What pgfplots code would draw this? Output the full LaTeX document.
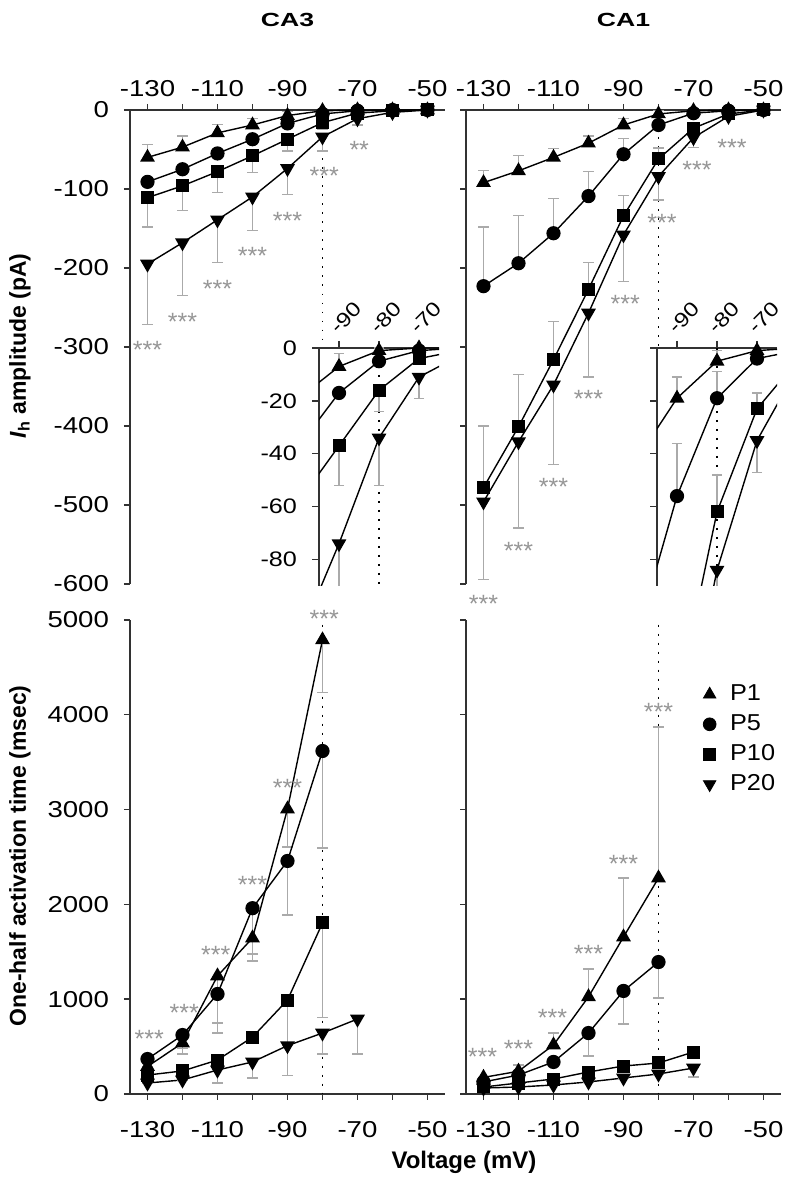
\documentclass[border=0pt]{standalone}
\usepackage{pgfplots}
\pgfplotsset{compat=1.18}
\usepackage{pgfplotstable}
\usepackage{fontspec}
\setmainfont{Liberation Sans}
\newfontfamily\tickfont{Liberation Sans}[FakeStretch=1.2]
\newfontfamily\legfont{Liberation Sans}[FakeStretch=1.1]
\newfontfamily\titlefont{Liberation Sans}[FakeStretch=1.4]

\definecolor{errgray}{RGB}{170,170,170}
\definecolor{stargray}{RGB}{150,150,150}
\definecolor{axisgray}{RGB}{50,50,50}

% Ih amplitude (pA), CA3 -- errors: P1 up, P10/P20 down
\pgfplotstableread{
V    P1   e1  P5   e5  P10   e10  P20   e20
-130 -60  16  -91  0   -111  37   -195  77
-120 -47  14  -75  0   -96   31   -168  67
-110 -29  11  -55  0   -78   26   -139  54
-100 -19  8   -37  0   -58   21   -110  43
-90  -7   5   -17  0   -37   15   -74   33
-80  -1   1   -5   0   -16   8    -34   18
-70  0    0   -1   0   -4    0    -11   8
-60  0    0   0    0   -1    0    -3    0
-50  0    0   0    0   0     0    0     0
}\ampCAthree

% Ih amplitude (pA), CA1 -- errors: P1/P5/P10 up, P20 down
\pgfplotstableread{
V    P1   e1  P5   e5  P10   e10  P20   e20
-130 -92  15  -223 75  -478  78   -496  98
-120 -77  19  -194 60  -401  66   -420  109
-110 -60  11  -156 44  -316  48   -348  101
-100 -42  9   -109 31  -227  34   -257  81
-90  -19  8   -56  20  -134  26   -158  59
-80  -5   4   -19  10  -62   14   -84   30
-70  -1   0   -4   0   -23   6    -35   12
-60  0    0   -1   0   -5    0    -8    0
-50  0    0   0    0   0     0    0     0
}\ampCAone

% one-half activation time (msec), CA3 -- errors down
\pgfplotstableread{
V    P1    e1   P5    e5    P10   e10   P20  e20
-130 290   0    369   0     200   0     116  0
-120 538   55   622   200   243   0     148  0
-110 1245  496  1055  412   358   0     253  137
-100 1645  168  1960  557   600   0     338  169
-90  3006  400  2458  570   991   800   510  0
-80  4790  558  3618  1023  1804  1000  643  221
-70  nan   nan  nan   nan   nan   nan   791  369
}\timeCAthree

% one-half activation time (msec), CA1 -- P1 up, P5/P20 down
\pgfplotstableread{
V    P1    e1    P5    e5   P10  e10  P20  e20
-130 175   0     127   0    74   0    63   0
-120 240   66    200   0    116  0    74   0
-110 517   126   338   0    158  0    95   0
-100 1025  293   643   242  232  0    127  0
-90  1656  622   1087  349  295  0    169  0
-80  2278  1593  1392  379  327  0    211  0
-70  nan   nan   nan   nan  443  0    274  94
}\timeCAone

\pgfplotsset{
  panel/.style={
    scale only axis, width=157.5pt, height=237pt,
    xmin=-135, xmax=-45,
    axis line style={line width=0.7pt, axisgray},
    tick style={line width=0.7pt, axisgray},
    tick align=outside, major tick length=3pt,
    xtick={-130,-120,...,-50},
    xticklabels={-130,,-110,,-90,,-70,,-50},
    tick label style={font=\tickfont\fontsize{11.5}{13}\selectfont},
    yticklabel style={xshift=-4pt},
    clip=false,
  },
  amp/.style={panel, axis x line*=top, axis y line*=left,
    ymin=-600, ymax=0, ytick={-600,-500,...,0}},
  tim/.style={panel, axis x line*=bottom, axis y line*=left,
    ymin=0, ymax=5000, ytick={0,1000,...,5000},
    xticklabel style={yshift=-7pt}},
  inset/.style={
    scale only axis, width=60pt, height=119pt,
    xmin=-95, xmax=-65, ymin=-90, ymax=0,
    axis x line*=top, axis y line*=left,
    axis line style={line width=0.7pt, axisgray},
    tick style={line width=0.7pt, axisgray},
    tick align=outside, major tick length=3.5pt,
    xtick={-90,-80,-70}, xticklabels={-90,-80,-70},
    ytick={-80,-60,...,0},
    tick label style={font=\tickfont\fontsize{10.5}{12}\selectfont},
    xticklabel style={xshift=-5pt, yshift=3pt, rotate=45, anchor=west,
      font=\tickfont\fontsize{10}{12}\selectfont},
    yticklabel style={xshift=-4pt},
    clip mode=individual,
  },
  ln/.style={black, line width=0.7pt},
  p1/.style={ln, mark=triangle*, mark size=3.6pt, mark options={solid, fill=black}},
  p5/.style={ln, mark=*, mark size=3.2pt, mark options={solid, fill=black}},
  p10/.style={ln, mark=square*, mark size=2.9pt, mark options={solid, fill=black}},
  p20/.style={ln, mark=triangle*, mark size=3.6pt, mark options={solid, fill=black, rotate=180}},
  eb/.style={error bars/y dir=#1, error bars/y explicit,
    error bars/error bar style={errgray, line width=0.6pt, solid},
    error bars/error mark options={rotate=90, errgray, line width=0.6pt, mark size=2.6pt, solid}},
  vref/.style={black, line width=0.8pt, dash pattern=on 0.9pt off 3.6pt},
}
\tikzset{star/.style={text=stargray, font=\fontsize{12.5}{14}\selectfont,
  inner sep=0pt, anchor=base, yshift=-7.3pt}}

\begin{document}
\begin{tikzpicture}
\path[use as bounding box] (0,0) rectangle (392pt,599.5pt);

% ---------------- CA3 amplitude ----------------
\begin{axis}[amp, at={(65pt,307.5pt)}, anchor=south west,
  yticklabels={-600,-500,-400,-300,-200,-100,0}]
\addplot[vref] coordinates {(-80,-50) (-80,-300)};
\addplot[p1, eb=plus] table[x=V, y=P1, y error=e1] {\ampCAthree};
\addplot[p5, eb=minus] table[x=V, y=P5, y error=e5] {\ampCAthree};
\addplot[p10, eb=minus] table[x=V, y=P10, y error=e10] {\ampCAthree};
\addplot[p20, eb=minus] table[x=V, y=P20, y error=e20] {\ampCAthree};
\node[star] at (axis cs:-130,-296) {***};
\node[star] at (axis cs:-120,-261) {***};
\node[star] at (axis cs:-110,-219) {***};
\node[star] at (axis cs:-100,-177) {***};
\node[star] at (axis cs:-90,-133) {***};
\node[star] at (axis cs:-79.5,-76) {***};
\node[star] at (axis cs:-69.5,-43) {**};
\end{axis}

% ---------------- CA1 amplitude ----------------
\begin{axis}[amp, at={(233pt,307.5pt)}, anchor=south west,
  yticklabels={,,,,,,}]
\addplot[vref] coordinates {(-80,0) (-80,-300)};
\addplot[p1, eb=plus] table[x=V, y=P1, y error=e1] {\ampCAone};
\addplot[p5, eb=plus] table[x=V, y=P5, y error=e5] {\ampCAone};
\addplot[p10, eb=plus] table[x=V, y=P10, y error=e10] {\ampCAone};
\addplot[p20, eb=minus] table[x=V, y=P20, y error=e20] {\ampCAone};
\node[star] at (axis cs:-130,-618) {***};
\node[star] at (axis cs:-120,-551) {***};
\node[star] at (axis cs:-110,-470) {***};
\node[star] at (axis cs:-100,-358) {***};
\node[star] at (axis cs:-89.5,-238) {***};
\node[star] at (axis cs:-79,-135) {***};
\node[star] at (axis cs:-69,-68) {***};
\node[star] at (axis cs:-59,-40) {***};
\end{axis}

% ---------------- CA3 inset ----------------
\begin{axis}[inset, at={(159.5pt,306.5pt)}, anchor=south west,
  yticklabels={-80,-60,-40,-20,0}]
\addplot[vref] coordinates {(-80,0) (-80,-90)};
\addplot[ln] table[x=V, y=P1] {\ampCAthree};
\addplot[ln] table[x=V, y=P5] {\ampCAthree};
\addplot[ln] table[x=V, y=P10] {\ampCAthree};
\addplot[ln] table[x=V, y=P20] {\ampCAthree};
\addplot[p1, only marks, restrict x to domain=-95:-65, eb=plus] table[x=V, y=P1, y error=e1] {\ampCAthree};
\addplot[p5, only marks, restrict x to domain=-95:-65, eb=minus] table[x=V, y=P5, y error=e5] {\ampCAthree};
\addplot[p10, only marks, restrict x to domain=-95:-65, eb=minus] table[x=V, y=P10, y error=e10] {\ampCAthree};
\addplot[p20, only marks, restrict x to domain=-95:-65, eb=minus] table[x=V, y=P20, y error=e20] {\ampCAthree};
\end{axis}

% ---------------- CA1 inset ----------------
\begin{axis}[inset, at={(328.5pt,306.5pt)}, anchor=south west,
  yticklabels={,,,,}]
\addplot[vref] coordinates {(-80,0) (-80,-90)};
\addplot[ln] table[x=V, y=P1] {\ampCAone};
\addplot[ln] table[x=V, y=P5] {\ampCAone};
\addplot[ln] table[x=V, y=P10] {\ampCAone};
\addplot[ln] table[x=V, y=P20] {\ampCAone};
\addplot[p1, only marks, restrict x to domain=-95:-65, eb=plus] table[x=V, y=P1, y error=e1] {\ampCAone};
\addplot[p5, only marks, restrict x to domain=-95:-65, eb=plus] table[x=V, y=P5, y error=e5] {\ampCAone};
\addplot[p10, only marks, restrict x to domain=-95:-65, eb=plus] table[x=V, y=P10, y error=e10] {\ampCAone};
\addplot[p20, only marks, restrict x to domain=-95:-65, eb=minus] table[x=V, y=P20, y error=e20] {\ampCAone};
\end{axis}

% ---------------- CA3 activation time ----------------
\begin{axis}[tim, at={(65pt,52.5pt)}, anchor=south west,
  yticklabels={0,1000,2000,3000,4000,5000}]
\addplot[vref] coordinates {(-80,4950) (-80,0)};
\addplot[p1, eb=minus] table[x=V, y=P1, y error=e1] {\timeCAthree};
\addplot[p5, eb=minus] table[x=V, y=P5, y error=e5] {\timeCAthree};
\addplot[p10, eb=minus] table[x=V, y=P10, y error=e10] {\timeCAthree};
\addplot[p20, eb=minus] table[x=V, y=P20, y error=e20] {\timeCAthree};
\node[star] at (axis cs:-129.5,643) {***};
\node[star] at (axis cs:-119.5,918) {***};
\node[star] at (axis cs:-110.5,1530) {***};
\node[star] at (axis cs:-100,2268) {***};
\node[star] at (axis cs:-90,3290) {***};
\node[star] at (axis cs:-79.5,5070) {***};
\end{axis}

% ---------------- CA1 activation time ----------------
\begin{axis}[tim, at={(233pt,52.5pt)}, anchor=south west,
  yticklabels={,,,,,},
  legend style={at={(0.752,0.872)}, anchor=north west, draw=none, fill=none,
    font=\legfont\fontsize{11.5}{13}\selectfont, row sep=1.5pt, inner sep=0pt,
    cells={anchor=west}}]
\addlegendimage{only marks, mark=triangle*, mark size=3.6pt, black}
\addlegendentry{\hspace{5pt}P1}
\addlegendimage{only marks, mark=*, mark size=3.2pt, black}
\addlegendentry{\hspace{5pt}P5}
\addlegendimage{only marks, mark=square*, mark size=2.9pt, black}
\addlegendentry{\hspace{5pt}P10}
\addlegendimage{only marks, mark=triangle*, mark size=3.6pt, black, mark options={rotate=180}}
\addlegendentry{\hspace{5pt}P20}
\addplot[vref] coordinates {(-80,4950) (-80,0)};
\addplot[p1, eb=plus] table[x=V, y=P1, y error=e1] {\timeCAone};
\addplot[p5, eb=minus] table[x=V, y=P5, y error=e5] {\timeCAone};
\addplot[p10, eb=minus] table[x=V, y=P10, y error=e10] {\timeCAone};
\addplot[p20, eb=minus] table[x=V, y=P20, y error=e20] {\timeCAone};
\node[star] at (axis cs:-130.3,454) {***};
\node[star] at (axis cs:-120,538) {***};
\node[star] at (axis cs:-110.3,865) {***};
\node[star] at (axis cs:-100,1540) {***};
\node[star] at (axis cs:-90,2490) {***};
\node[star] at (axis cs:-80,4093) {***};
\end{axis}

% titles and axis labels
\node[font=\titlefont\bfseries\fontsize{9.5}{11}\selectfont] at (143.75pt,589.5pt) {CA3};
\node[font=\titlefont\bfseries\fontsize{9.5}{11}\selectfont] at (311.75pt,589.5pt) {CA1};
\node[font=\bfseries\fontsize{11.5}{13}\selectfont, rotate=90] at (10pt,426.5pt)
  {\textit{I}\textsubscript{h} amplitude (pA)};
\node[font=\bfseries\fontsize{11.5}{13}\selectfont, rotate=90] at (10pt,171.5pt)
  {One-half activation time (msec)};
\node[font=\bfseries\fontsize{12}{14}\selectfont, anchor=base] at (232pt,15pt)
  {Voltage (mV)};
\end{tikzpicture}
\end{document}
